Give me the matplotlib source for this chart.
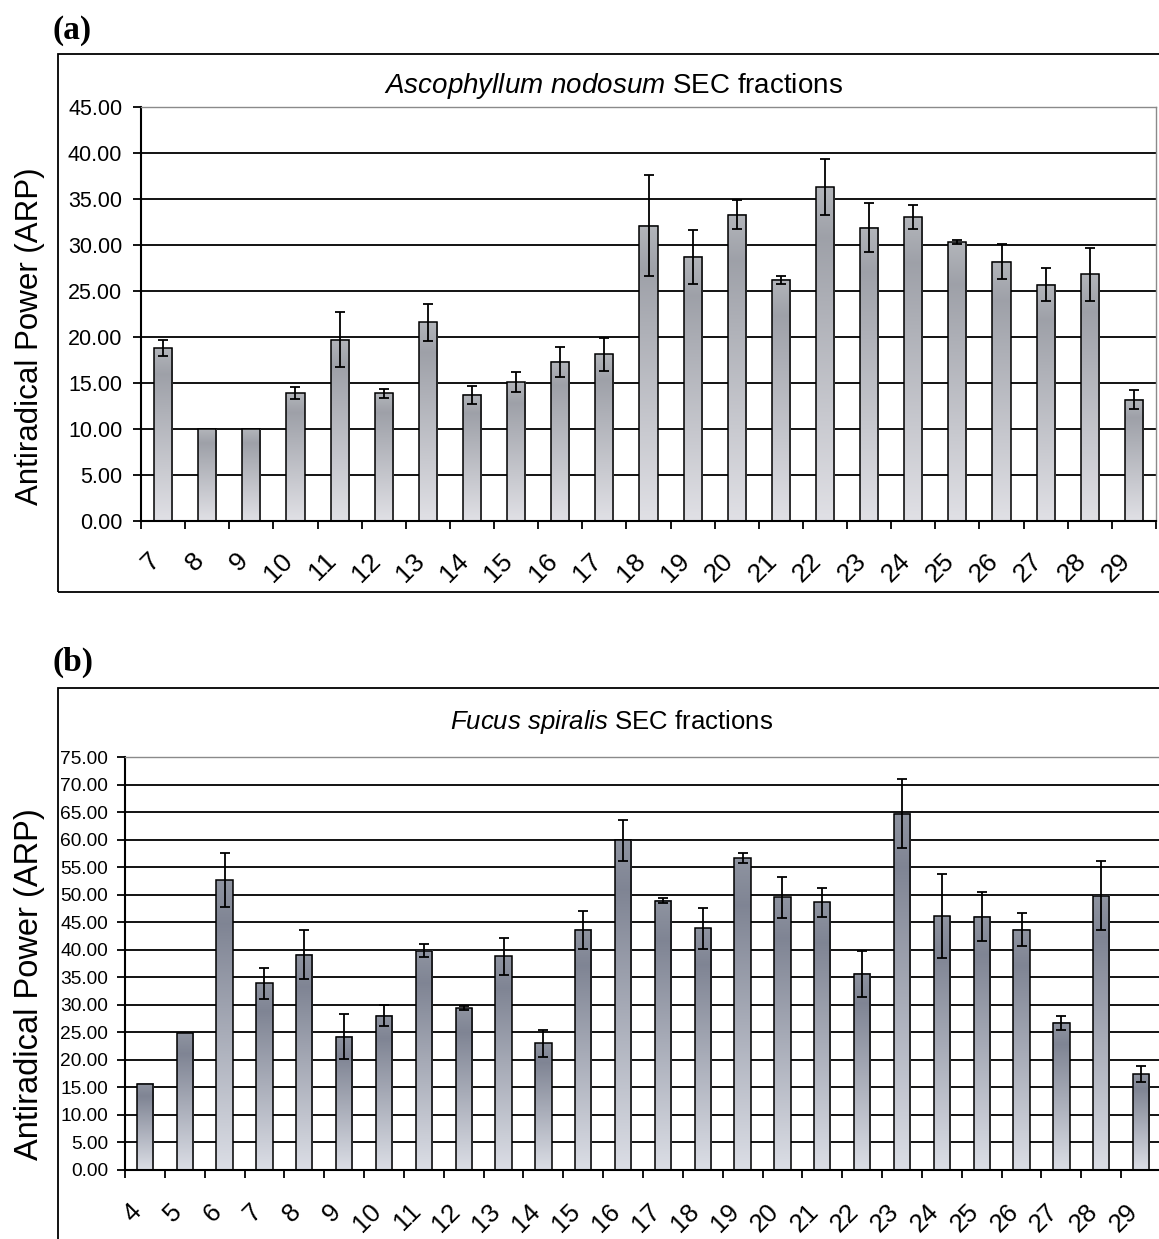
import numpy as np
import matplotlib
matplotlib.use("Agg")
import matplotlib.pyplot as plt
from matplotlib import font_manager
from matplotlib.colors import LinearSegmentedColormap
from matplotlib.patches import Rectangle
from matplotlib.transforms import ScaledTranslation

# fraction numbers, mean antiradical power and standard deviation
frac_a = [str(i) for i in range(7, 30)]
arp_a = [18.8, 10.0, 10.0, 13.9, 19.7, 13.9, 21.6, 13.7, 15.1, 17.3, 18.1, 32.1,
         28.7, 33.3, 26.2, 36.3, 31.9, 33.0, 30.3, 28.2, 25.7, 26.8, 13.2]
err_a = [0.9, 0.0, 0.0, 0.65, 3.0, 0.5, 2.0, 1.0, 1.1, 1.6, 1.8, 5.5,
         2.9, 1.6, 0.4, 3.0, 2.7, 1.3, 0.2, 1.95, 1.75, 2.9, 1.0]

frac_b = [str(i) for i in range(4, 30)]
arp_b = [15.7, 24.8, 52.6, 33.9, 39.1, 24.2, 28.0, 39.8, 29.4, 38.8, 23.0, 43.6, 59.9,
         48.9, 43.9, 56.6, 49.5, 48.6, 35.6, 64.7, 46.1, 46.0, 43.6, 26.7, 49.8, 17.4]
err_b = [0.0, 0.0, 4.9, 2.8, 4.5, 4.1, 1.9, 1.2, 0.3, 3.4, 2.4, 3.4, 3.7,
         0.5, 3.7, 0.9, 3.7, 2.7, 4.1, 6.3, 7.6, 4.5, 3.0, 1.2, 6.3, 1.5]


def has_font(name):
    try:
        font_manager.findfont(name, fallback_to_default=False)
        return True
    except ValueError:
        return False


SANS = "Liberation Sans" if has_font("Liberation Sans") else "DejaVu Sans"
if has_font("Liberation Sans Narrow"):
    TICKFONT, TICK_SCALE = "Liberation Sans Narrow", 1.15
else:
    TICKFONT, TICK_SCALE = SANS, 1.0
SERIF = "Liberation Serif" if has_font("Liberation Serif") else "DejaVu Serif"

plt.rcParams["font.family"] = [SANS, "DejaVu Sans"]
plt.rcParams["mathtext.fontset"] = "custom"
plt.rcParams["mathtext.rm"] = SANS
plt.rcParams["mathtext.it"] = SANS + ":italic"

W, H = 1159, 1239
fig = plt.figure(figsize=(W / 100, H / 100), dpi=100)


def px_rect(left, top, right, bottom):
    return [left / W, 1 - bottom / H, (right - left) / W, (bottom - top) / H]


def gradient_bars(ax, values, errs, width, stops):
    # each bar gets its own top-to-bottom shading, Excel style
    cmap = LinearSegmentedColormap.from_list("bar", stops)
    grad = np.linspace(0, 1, 256).reshape(-1, 1)
    x = np.arange(len(values))
    for xi, v in zip(x, values):
        ax.imshow(grad, cmap=cmap, aspect="auto", origin="upper",
                  extent=(xi - width / 2, xi + width / 2, 0, v), zorder=2)
    ax.bar(x, values, width=width, facecolor="none", edgecolor="black",
           linewidth=1.1, zorder=3)
    errs = np.asarray(errs)
    keep = errs > 0
    ax.errorbar(x[keep], np.asarray(values)[keep], yerr=errs[keep], fmt="none",
                ecolor="black", elinewidth=1.3, capsize=3.4, capthick=1.3, zorder=4)


def style_axes(ax, labels, ymax, tick_size, xlab_size, xpad, ypad):
    n = len(labels)
    ax.set_xlim(-0.5, n - 0.5)
    ax.set_ylim(0, ymax)
    ax.set_yticks(np.arange(0, ymax + 1, 5))
    ax.set_yticklabels([f"{v:.2f}" for v in np.arange(0, ymax + 1, 5)],
                       fontsize=tick_size, family=TICKFONT)
    ax.set_xticks(np.arange(n))
    ax.set_xticklabels(labels, rotation=45, ha="right", va="center",
                       rotation_mode="anchor", fontsize=xlab_size, family=TICKFONT)
    ax.set_xticks(np.arange(-0.5, n, 1), minor=True)
    ax.tick_params(axis="x", which="major", length=0, pad=xpad)
    ax.tick_params(axis="x", which="minor", length=6, width=1.3, direction="out")
    ax.tick_params(axis="y", length=6, width=1.3, direction="out", pad=ypad)
    shift = ScaledTranslation(-0.07, 0, fig.dpi_scale_trans)
    for lab in ax.get_xticklabels():
        lab.set_transform(lab.get_transform() + shift)
    ax.yaxis.grid(True, color="black", linewidth=1.3)
    ax.set_axisbelow(True)
    ax.spines["left"].set_linewidth(1.5)
    ax.spines["bottom"].set_linewidth(1.5)
    ax.spines["top"].set_color("#8a8a8a")
    ax.spines["top"].set_linestyle((0, (1, 1)))
    ax.spines["top"].set_linewidth(1.0)
    ax.spines["right"].set_color("#8a8a8a")
    ax.spines["right"].set_linewidth(1.0)


# (a) Ascophyllum nodosum
ax1 = fig.add_axes(px_rect(141, 107, 1156, 521))
gradient_bars(ax1, arp_a, err_a, 0.41,
              [(0.0, (0.70, 0.71, 0.73)), (0.15, (0.62, 0.63, 0.66)),
               (1.0, (0.88, 0.88, 0.90))])
style_axes(ax1, frac_a, 45, 15.5 * TICK_SCALE, 19 * TICK_SCALE, 26, 7.5)
fig.text(613 / W, 1 - 86 / H, r"$\mathit{Ascophyllum\ nodosum}$ SEC fractions",
         ha="center", va="center", fontsize=20)
fig.text(30 / W, 1 - 336 / H, "Antiradical Power (ARP)", rotation=90,
         ha="center", va="center", fontsize=22.5)
fig.text(53 / W, 1 - 30 / H, "(a)", family=SERIF, weight="bold", fontsize=24,
         ha="left", va="center")
fig.add_artist(Rectangle((58 / W, 1 - 592 / H), 1.2, (592 - 54) / H,
                         transform=fig.transFigure, fill=False,
                         edgecolor="black", linewidth=1.3))

# (b) Fucus spiralis
ax2 = fig.add_axes(px_rect(125, 757, 1161, 1170))
gradient_bars(ax2, arp_b, err_b, 0.41,
              [(0.0, (0.56, 0.58, 0.63)), (0.15, (0.50, 0.52, 0.58)),
               (1.0, (0.86, 0.87, 0.90))])
style_axes(ax2, frac_b, 75, 13.8 * TICK_SCALE, 18.5 * TICK_SCALE, 27, 6.3)
fig.text(612 / W, 1 - 722 / H, r"$\mathit{Fucus\ spiralis}$ SEC fractions",
         ha="center", va="center", fontsize=18.5)
fig.text(30 / W, 1 - 984 / H, "Antiradical Power (ARP)", rotation=90,
         ha="center", va="center", fontsize=23.5)
fig.text(53 / W, 1 - 662 / H, "(b)", family=SERIF, weight="bold", fontsize=24,
         ha="left", va="center")
fig.add_artist(Rectangle((58 / W, -0.05), 1.2, (1 - 688 / H) + 0.05,
                         transform=fig.transFigure, fill=False,
                         edgecolor="black", linewidth=1.3))

fig.savefig("out.png", dpi=100)
